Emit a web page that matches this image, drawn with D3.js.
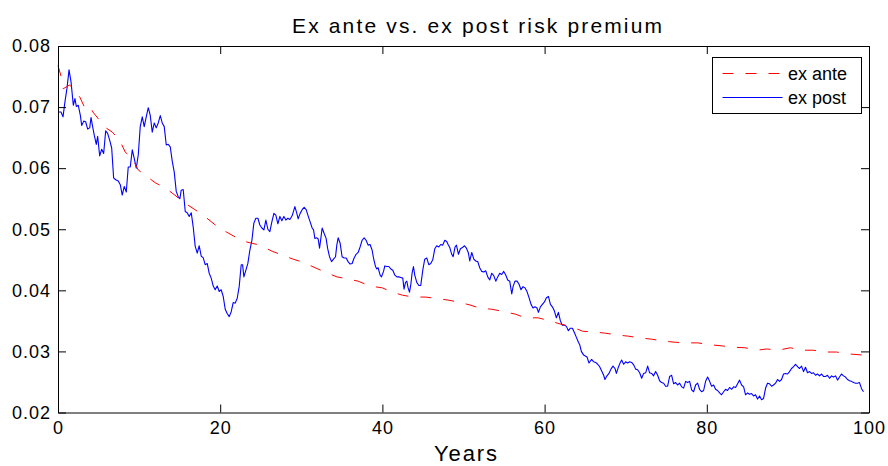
<!DOCTYPE html>
<html>
<head>
<meta charset="utf-8">
<script src="https://cdn.jsdelivr.net/npm/d3@7"></script>
<style>
  html, body { margin: 0; padding: 0; background: #fff; }
  svg { display: block; }
  text { font-family: "Liberation Sans", Arial, Helvetica, sans-serif; fill: #000; }
</style>
</head>
<body>
<svg id="chart" width="888" height="466"></svg>
<script>
// ---------------- data ----------------
const titleText = "Ex ante vs. ex post risk premium";
const xLabelText = "Years";
const seriesNames = ["ex ante", "ex post"];
const xTicks = [0, 20, 40, 60, 80, 100];
const yTicks = [0.02, 0.03, 0.04, 0.05, 0.06, 0.07, 0.08];
const yTickLabels = ["0.02", "0.03", "0.04", "0.05", "0.06", "0.07", "0.08"];

const exAnteYears = [0, 0.45, 0.65, 1.4, 1.9, 2.7, 3.33, 3.94, 4.3, 4.9, 5.8, 6.7, 7.6, 8.3, 9.1, 9.9, 11, 12, 13.2, 14.4, 15.4, 16.9, 17.9, 19.4, 20.3, 21.9, 23.3, 24.9, 26.4, 27.6, 29, 30.2, 31.7, 32.9, 34.4, 35.6, 37, 38.5, 40, 41.2, 42.5, 43.8, 45.3, 46.5, 48.1, 49.3, 50.8, 52, 53.5, 54.7, 56.4, 57.6, 59.2, 60.4, 61.9, 63.4, 64.7, 66, 67.4, 68.9, 70.3, 71.8, 73.2, 74.6, 76.1, 77.6, 78.9, 80.4, 81.9, 83.2, 84.7, 86.2, 87.4, 88.8, 90.3, 91.7, 93.1, 94.6, 96, 97.4, 99.3];
const exAnteValues = [0.0768, 0.0747, 0.0730, 0.0736, 0.0731, 0.0716, 0.0698, 0.0701, 0.0692, 0.0682, 0.0667, 0.0659, 0.0646, 0.0626, 0.0618, 0.0597, 0.0586, 0.0576, 0.0568, 0.0556, 0.0545, 0.0532, 0.0523, 0.0507, 0.0499, 0.0487, 0.0479, 0.0474, 0.0464, 0.0458, 0.0451, 0.0446, 0.0437, 0.0430, 0.0422, 0.0419, 0.0415, 0.0407, 0.0404, 0.0397, 0.0392, 0.0389, 0.0389, 0.0387, 0.0384, 0.0381, 0.0376, 0.0371, 0.0369, 0.0366, 0.0361, 0.0355, 0.0355, 0.0351, 0.0345, 0.0340, 0.0333, 0.0332, 0.0330, 0.0327, 0.0325, 0.0322, 0.0320, 0.0317, 0.0315, 0.0314, 0.0314, 0.0311, 0.0309, 0.0307, 0.0306, 0.0302, 0.0304, 0.0302, 0.0306, 0.0302, 0.0302, 0.0299, 0.0299, 0.0296, 0.0294];

const exPostYears = [0.12, 0.37, 0.62, 0.86, 1.11, 1.36, 1.60, 1.89, 2.09, 2.26, 2.50, 2.75, 2.92, 3.17, 3.41, 3.66, 3.91, 4.07, 4.23, 4.47, 4.72, 4.89, 5.14, 5.39, 5.63, 5.88, 6.12, 6.37, 6.62, 6.86, 7.11, 7.43, 7.68, 7.92, 8.17, 8.42, 8.66, 8.91, 9.16, 9.40, 9.65, 9.90, 10.14, 10.39, 10.63, 10.88, 11.13, 11.37, 11.62, 11.87, 12.11, 12.36, 12.61, 12.85, 13.10, 13.35, 13.59, 13.84, 14.09, 14.33, 14.58, 14.83, 15.03, 15.19, 15.44, 15.69, 15.93, 16.18, 16.43, 16.67, 16.92, 17.17, 17.41, 17.66, 17.91, 18.15, 18.40, 18.64, 18.89, 19.14, 19.38, 19.63, 19.88, 20.12, 20.37, 20.62, 20.86, 21.11, 21.36, 21.60, 21.85, 22.10, 22.34, 22.59, 22.76, 22.92, 23.17, 23.41, 23.66, 23.91, 24.15, 24.40, 24.65, 24.89, 25.14, 25.39, 25.63, 25.88, 26.12, 26.37, 26.62, 26.86, 27.11, 27.36, 27.60, 27.85, 28.10, 28.34, 28.59, 28.87, 29.21, 29.45, 29.61, 29.86, 30.11, 30.35, 30.60, 30.84, 31.09, 31.34, 31.51, 31.67, 31.92, 32.08, 32.25, 32.41, 32.57, 32.82, 33.06, 33.24, 33.48, 33.73, 33.97, 34.22, 34.38, 34.54, 34.79, 35.03, 35.28, 35.53, 35.77, 36.02, 36.27, 36.51, 36.76, 37.01, 37.25, 37.50, 37.75, 37.99, 38.24, 38.48, 38.73, 38.90, 39.15, 39.31, 39.47, 39.72, 39.89, 40.14, 40.30, 40.54, 40.79, 41.04, 41.28, 41.53, 41.78, 42.02, 42.27, 42.51, 42.67, 42.85, 43.01, 43.17, 43.34, 43.50, 43.66, 43.83, 43.99, 44.24, 44.49, 44.73, 44.98, 45.22, 45.47, 45.72, 45.96, 46.21, 46.46, 46.70, 46.95, 47.20, 47.44, 47.69, 47.93, 48.10, 48.31, 48.55, 48.72, 48.96, 49.13, 49.38, 49.62, 49.87, 50.12, 50.36, 50.61, 50.77, 51.02, 51.27, 51.51, 51.76, 52.00, 52.25, 52.50, 52.74, 52.99, 53.24, 53.48, 53.73, 53.98, 54.22, 54.47, 54.71, 54.96, 55.21, 55.45, 55.70, 55.95, 56.11, 56.35, 56.60, 56.85, 57.09, 57.34, 57.59, 57.83, 58.08, 58.33, 58.57, 58.82, 59.06, 59.24, 59.48, 59.73, 59.98, 60.22, 60.47, 60.72, 60.96, 61.21, 61.45, 61.70, 61.95, 62.19, 62.44, 62.69, 62.93, 63.18, 63.43, 63.67, 63.92, 64.17, 64.33, 64.53, 64.82, 65.23, 65.47, 65.80, 66.05, 66.30, 66.54, 66.79, 67.04, 67.28, 67.44, 67.69, 67.94, 68.18, 68.43, 68.68, 68.85, 69.09, 69.34, 69.50, 69.75, 69.99, 70.24, 70.49, 70.73, 70.98, 71.23, 71.47, 71.72, 71.97, 72.21, 72.46, 72.71, 72.95, 73.20, 73.44, 73.69, 73.94, 74.18, 74.43, 74.68, 74.92, 75.17, 75.42, 75.66, 75.91, 76.16, 76.40, 76.65, 76.90, 77.14, 77.39, 77.63, 77.88, 78.13, 78.37, 78.62, 78.87, 79.11, 79.36, 79.61, 79.85, 80.10, 80.35, 80.59, 80.84, 81.08, 81.33, 81.58, 81.82, 82.07, 82.32, 82.56, 82.81, 83.06, 83.30, 83.55, 83.80, 84.04, 84.29, 84.54, 84.78, 85.03, 85.27, 85.52, 85.77, 86.01, 86.26, 86.51, 86.75, 87.00, 87.25, 87.49, 87.74, 87.99, 88.23, 88.48, 88.72, 88.97, 89.22, 89.46, 89.71, 89.96, 90.20, 90.45, 90.70, 90.94, 91.19, 91.44, 91.68, 91.93, 92.17, 92.42, 92.67, 92.91, 93.16, 93.41, 93.65, 93.90, 94.15, 94.39, 94.64, 94.88, 95.13, 95.38, 95.62, 95.87, 96.12, 96.36, 96.61, 96.86, 97.10, 97.35, 97.60, 97.84, 98.09, 98.34, 98.58, 98.83, 99.08, 99.32];
const exPostValues = [0.0692, 0.0692, 0.0684, 0.0709, 0.0731, 0.0761, 0.0742, 0.0703, 0.0714, 0.0701, 0.0703, 0.0687, 0.0670, 0.0677, 0.0676, 0.0664, 0.0666, 0.0683, 0.0671, 0.0654, 0.0639, 0.0652, 0.0620, 0.0631, 0.0624, 0.0661, 0.0657, 0.0646, 0.0633, 0.0584, 0.0581, 0.0579, 0.0573, 0.0556, 0.0570, 0.0561, 0.0602, 0.0602, 0.0630, 0.0616, 0.0600, 0.0622, 0.0668, 0.0684, 0.0668, 0.0684, 0.0699, 0.0687, 0.0659, 0.0674, 0.0666, 0.0674, 0.0686, 0.0674, 0.0668, 0.0638, 0.0639, 0.0635, 0.0611, 0.0594, 0.0562, 0.0553, 0.0550, 0.0564, 0.0565, 0.0529, 0.0527, 0.0521, 0.0527, 0.0504, 0.0472, 0.0461, 0.0473, 0.0456, 0.0453, 0.0442, 0.0444, 0.0428, 0.0420, 0.0407, 0.0401, 0.0407, 0.0398, 0.0401, 0.0390, 0.0369, 0.0362, 0.0357, 0.0365, 0.0380, 0.0379, 0.0387, 0.0406, 0.0442, 0.0442, 0.0422, 0.0433, 0.0444, 0.0466, 0.0482, 0.0510, 0.0518, 0.0518, 0.0507, 0.0502, 0.0499, 0.0515, 0.0500, 0.0496, 0.0512, 0.0526, 0.0523, 0.0509, 0.0521, 0.0514, 0.0521, 0.0515, 0.0518, 0.0516, 0.0522, 0.0537, 0.0526, 0.0517, 0.0526, 0.0532, 0.0536, 0.0532, 0.0522, 0.0512, 0.0502, 0.0499, 0.0485, 0.0486, 0.0484, 0.0469, 0.0485, 0.0502, 0.0493, 0.0485, 0.0469, 0.0455, 0.0447, 0.0451, 0.0455, 0.0474, 0.0486, 0.0477, 0.0455, 0.0453, 0.0453, 0.0447, 0.0443, 0.0444, 0.0453, 0.0459, 0.0462, 0.0471, 0.0482, 0.0486, 0.0482, 0.0474, 0.0475, 0.0466, 0.0453, 0.0439, 0.0435, 0.0437, 0.0425, 0.0422, 0.0431, 0.0440, 0.0439, 0.0439, 0.0435, 0.0433, 0.0425, 0.0422, 0.0422, 0.0421, 0.0420, 0.0402, 0.0413, 0.0415, 0.0404, 0.0397, 0.0409, 0.0428, 0.0439, 0.0425, 0.0413, 0.0408, 0.0408, 0.0433, 0.0451, 0.0453, 0.0442, 0.0444, 0.0450, 0.0468, 0.0473, 0.0471, 0.0475, 0.0474, 0.0482, 0.0480, 0.0475, 0.0470, 0.0459, 0.0455, 0.0471, 0.0474, 0.0459, 0.0468, 0.0470, 0.0473, 0.0469, 0.0461, 0.0448, 0.0462, 0.0451, 0.0448, 0.0447, 0.0437, 0.0431, 0.0430, 0.0432, 0.0422, 0.0417, 0.0428, 0.0424, 0.0415, 0.0422, 0.0428, 0.0426, 0.0431, 0.0425, 0.0417, 0.0415, 0.0394, 0.0406, 0.0415, 0.0415, 0.0410, 0.0401, 0.0406, 0.0404, 0.0398, 0.0388, 0.0377, 0.0371, 0.0373, 0.0371, 0.0364, 0.0373, 0.0377, 0.0381, 0.0388, 0.0390, 0.0377, 0.0373, 0.0366, 0.0355, 0.0364, 0.0350, 0.0343, 0.0343, 0.0341, 0.0334, 0.0338, 0.0338, 0.0331, 0.0323, 0.0315, 0.0311, 0.0300, 0.0294, 0.0291, 0.0281, 0.0287, 0.0283, 0.0282, 0.0279, 0.0275, 0.0268, 0.0261, 0.0254, 0.0260, 0.0264, 0.0271, 0.0276, 0.0272, 0.0264, 0.0274, 0.0282, 0.0286, 0.0279, 0.0283, 0.0281, 0.0283, 0.0282, 0.0278, 0.0271, 0.0270, 0.0265, 0.0256, 0.0264, 0.0265, 0.0276, 0.0265, 0.0264, 0.0260, 0.0267, 0.0261, 0.0252, 0.0249, 0.0248, 0.0243, 0.0243, 0.0259, 0.0261, 0.0247, 0.0249, 0.0245, 0.0248, 0.0242, 0.0240, 0.0251, 0.0249, 0.0251, 0.0237, 0.0234, 0.0245, 0.0248, 0.0238, 0.0234, 0.0236, 0.0251, 0.0258, 0.0251, 0.0243, 0.0245, 0.0238, 0.0236, 0.0232, 0.0229, 0.0234, 0.0238, 0.0236, 0.0241, 0.0238, 0.0242, 0.0241, 0.0247, 0.0253, 0.0245, 0.0242, 0.0229, 0.0232, 0.0230, 0.0231, 0.0227, 0.0229, 0.0222, 0.0227, 0.0221, 0.0223, 0.0240, 0.0248, 0.0247, 0.0243, 0.0245, 0.0248, 0.0254, 0.0251, 0.0254, 0.0263, 0.0264, 0.0263, 0.0267, 0.0272, 0.0275, 0.0279, 0.0275, 0.0272, 0.0276, 0.0267, 0.0274, 0.0265, 0.0267, 0.0264, 0.0265, 0.0261, 0.0263, 0.0260, 0.0263, 0.0259, 0.0259, 0.0261, 0.0256, 0.0260, 0.0258, 0.0260, 0.0253, 0.0258, 0.0263, 0.0260, 0.0258, 0.0254, 0.0252, 0.0251, 0.0249, 0.0248, 0.0248, 0.0249, 0.0239, 0.0234];

// ---------------- layout ----------------
const svg = d3.select("#chart");
const plot = { left: 58, right: 869, top: 46, bottom: 412.5 };
const x = d3.scaleLinear().domain([0, 100]).range([plot.left, plot.right]);
const y = d3.scaleLinear().domain([0.02, 0.08]).range([plot.bottom, plot.top]);
const tickLen = 8;
const fontSize = 18;

const exAnte = exAnteYears.map((t, i) => [t, exAnteValues[i]]);
const exPost = exPostYears.map((t, i) => [t, exPostValues[i]]);
const line = d3.line().x(d => x(d[0])).y(d => y(d[1]));

// series
svg.append("path").datum(exPost)
  .attr("d", line).attr("fill", "none")
  .attr("stroke", "#0000ff").attr("stroke-width", 1.1)
  .attr("stroke-linejoin", "round");
svg.append("path").datum(exAnte)
  .attr("d", line).attr("fill", "none")
  .attr("stroke", "#ff0000").attr("stroke-width", 1)
  .attr("stroke-dasharray", "11,12");

// axes (MATLAB-style: inward ticks on all four sides, box)
const axBottom = d3.axisBottom(x).tickValues(xTicks).tickSizeInner(-tickLen).tickSizeOuter(0).tickPadding(9);
const axTop = d3.axisTop(x).tickValues(xTicks).tickSizeInner(-tickLen).tickSizeOuter(0).tickFormat("");
const axLeft = d3.axisLeft(y).tickValues(yTicks).tickSizeInner(-tickLen).tickSizeOuter(0).tickPadding(7)
  .tickFormat((d, i) => yTickLabels[i]);
const axRight = d3.axisRight(y).tickValues(yTicks).tickSizeInner(-tickLen).tickSizeOuter(0).tickFormat("");

function styleAxis(g) {
  g.select(".domain").attr("stroke", "#000").attr("stroke-width", 1);
  g.selectAll(".tick line").attr("stroke", "#000").attr("stroke-width", 1);
  g.selectAll(".tick text").attr("fill", "#000")
    .style("font-family", '"Liberation Sans", Arial, sans-serif')
    .style("font-size", fontSize + "px")
    .style("letter-spacing", "1px");
}
svg.append("g").attr("transform", `translate(0,${plot.bottom})`).call(axBottom).call(styleAxis);
svg.append("g").attr("transform", `translate(0,${plot.top})`).call(axTop).call(styleAxis);
svg.append("g").attr("transform", `translate(${plot.left},0)`).call(axLeft).call(styleAxis);
svg.append("g").attr("transform", `translate(${plot.right},0)`).call(axRight).call(styleAxis);

// title & axis label
svg.append("text").attr("x", 292).attr("y", 33)
  .attr("textLength", 370).attr("lengthAdjust", "spacing")
  .style("font-size", "21px").text(titleText);
svg.append("text").attr("x", 434).attr("y", 461)
  .attr("textLength", 63).attr("lengthAdjust", "spacing")
  .style("font-size", "22px").text(xLabelText);

// legend
const lg = svg.append("g");
lg.append("rect").attr("x", 712.5).attr("y", 57.5).attr("width", 149).attr("height", 56)
  .attr("fill", "#fff").attr("stroke", "#000").attr("stroke-width", 1);
const legendItems = [
  { name: seriesNames[0], color: "#ff0000", dash: "11,12", yy: 73.5 },
  { name: seriesNames[1], color: "#0000ff", dash: null, yy: 97.5 }
];
legendItems.forEach(it => {
  const l = lg.append("line").attr("x1", 722.5).attr("x2", 782.5)
    .attr("y1", it.yy).attr("y2", it.yy)
    .attr("stroke", it.color).attr("stroke-width", 1);
  if (it.dash) l.attr("stroke-dasharray", it.dash);
  lg.append("text").attr("x", 788).attr("y", it.yy + 6.5)
    .style("font-size", "18px").text(it.name);
});
</script>
</body>
</html>
